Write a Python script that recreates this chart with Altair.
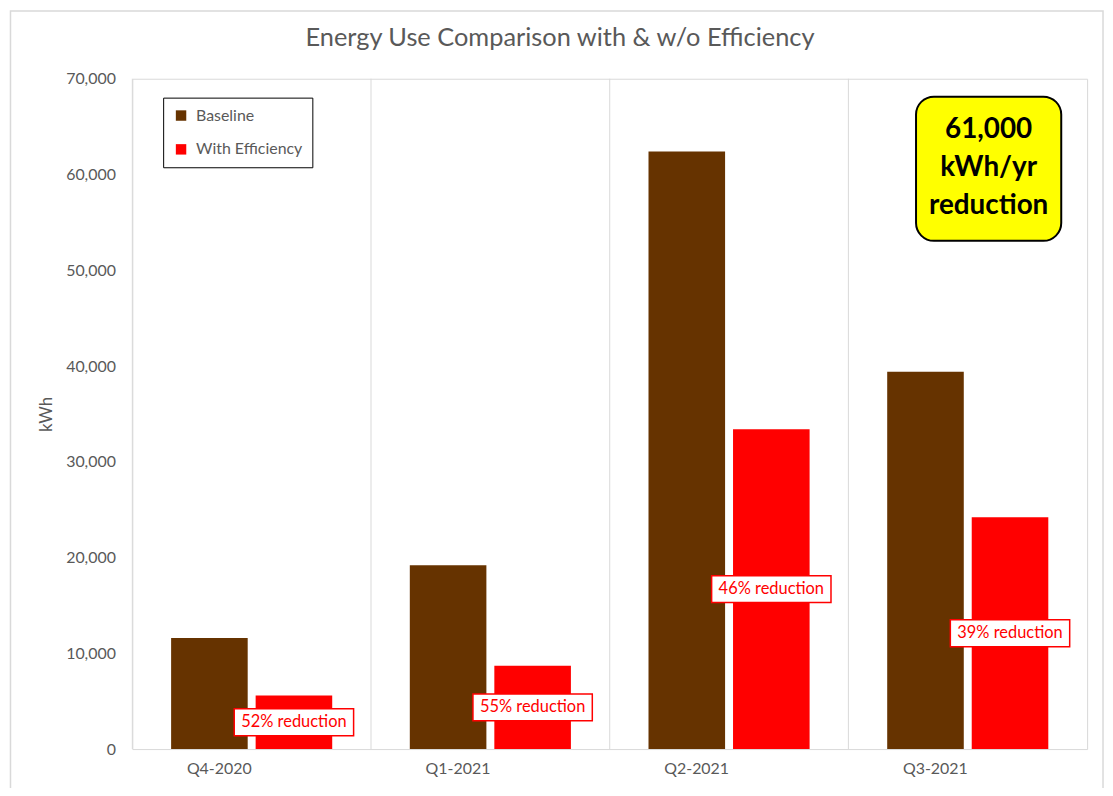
import altair as alt
import pandas as pd

quarters = ["Q4-2020", "Q1-2021", "Q2-2021", "Q3-2021"]
baseline = [11600, 19200, 62400, 39400]
efficiency = [5600, 8700, 33400, 24200]
reduction_labels = ["52% reduction", "55% reduction", "46% reduction", "39% reduction"]
series_names = ["Baseline", "With Efficiency"]
series_colors = ["#663300", "#FF0000"]
y_ticks = [0, 10000, 20000, 30000, 40000, 50000, 60000, 70000]
callout_lines = ["61,000", "kWh/yr", "reduction"]
chart_title = "Energy Use Comparison with & w/o Efficiency"

FONT = "Lato"
GREY = "#595959"

rows = []
for q, b, e in zip(quarters, baseline, efficiency):
    rows.append({"quarter": q, "series": series_names[0], "kWh": b})
    rows.append({"quarter": q, "series": series_names[1], "kWh": e})
bars_df = pd.DataFrame(rows)

lab_df = pd.DataFrame({
    "quarter": quarters,
    "series": [series_names[1]] * len(quarters),
    "kWh": efficiency,
    "label": reduction_labels,
})

q_df = pd.DataFrame({"quarter": quarters})

x_enc = alt.X("quarter:N", sort=quarters, title=None,
              scale=alt.Scale(paddingInner=0, paddingOuter=0),
              axis=alt.Axis(labelAngle=0, labelFontSize=16, labelColor=GREY,
                            labelFont=FONT, labelPadding=20, ticks=False,
                            domain=False, grid=False))
xoff = alt.XOffset("series:N", sort=series_names,
                   scale=alt.Scale(paddingInner=0.094, paddingOuter=0.459))
y_scale = alt.Scale(domain=[0, 70000], nice=False)

grid_v = alt.Chart(q_df).mark_rule(color="#d9d9d9", strokeWidth=1).encode(
    x=alt.X("quarter:N", sort=quarters, bandPosition=0),
    y=alt.datum(0), y2=alt.datum(70000),
)

bars = alt.Chart(bars_df).mark_bar().encode(
    x=x_enc,
    xOffset=xoff,
    y=alt.Y("kWh:Q", scale=y_scale, title="kWh",
            axis=alt.Axis(values=y_ticks, format=",.0f", labelFontSize=16,
                          labelColor=GREY, labelFont=FONT, labelPadding=17,
                          ticks=False, domain=False, gridColor="#d9d9d9",
                          titleFont=FONT, titleFontSize=17, titleColor=GREY,
                          titleFontWeight="normal", titleX=-86, titleY=337,
                          titleAngle=-90, titleAlign="center",
                          titleBaseline="middle")),
    color=alt.Color("series:N", sort=series_names,
                    scale=alt.Scale(domain=series_names, range=series_colors),
                    legend=alt.Legend(title=None, orient="none", legendX=31,
                                      legendY=19, direction="vertical",
                                      symbolType="square", symbolSize=110,
                                      symbolStrokeWidth=0, labelFontSize=16,
                                      labelFont=FONT, labelColor=GREY,
                                      labelOffset=7, rowPadding=18, padding=10,
                                      strokeColor="black", fillColor="white")),
)

box_shape = "M-1,-0.225L1,-0.225L1,0.225L-1,0.225Z"
lab_boxes = alt.Chart(lab_df).transform_calculate(mid="datum.kWh / 2").mark_point(
    shape=box_shape, size=14400, filled=True, fill="white", stroke="#FF0000",
    strokeWidth=1.5, opacity=1,
).encode(
    x=alt.X("quarter:N", sort=quarters),
    xOffset=alt.XOffset("series:N", sort=series_names),
    y=alt.Y("mid:Q", scale=y_scale),
)
lab_text = alt.Chart(lab_df).transform_calculate(mid="datum.kWh / 2").mark_text(
    font=FONT, fontSize=16.5, color="#FF0000", align="center", baseline="middle",
).encode(
    x=alt.X("quarter:N", sort=quarters),
    xOffset=alt.XOffset("series:N", sort=series_names),
    y=alt.Y("mid:Q", scale=y_scale),
    text="label:N",
)

one = pd.DataFrame({"a": [0]})
callout_box = alt.Chart(one).mark_rect(
    fill="#FFFF00", stroke="black", strokeWidth=2, cornerRadius=18,
).encode(x=alt.value(788), x2=alt.value(934), y=alt.value(18), y2=alt.value(163))

callout_layers = []
for i, line in enumerate(callout_lines):
    callout_layers.append(
        alt.Chart(pd.DataFrame({"t": [line]})).mark_text(
            font=FONT, fontSize=28, fontWeight="bold", color="black",
            align="center", baseline="middle",
        ).encode(x=alt.value(861), y=alt.value(52 + 38 * i), text="t:N")
    )

title_layer = alt.Chart(pd.DataFrame({"t": [chart_title]})).mark_text(
    font=FONT, fontSize=25.5, color=GREY, align="center", baseline="middle",
).encode(x=alt.value(430), y=alt.value(-41), text="t:N")

outer = alt.Chart(one).mark_rect(
    fill=None, stroke="#d9d9d9", strokeWidth=1.5,
).encode(x=alt.value(-122.5), x2=alt.value(976), y=alt.value(-68), y2=alt.value(760))

chart = alt.layer(
    outer, grid_v, bars, lab_boxes, lab_text, callout_box, *callout_layers,
    title_layer,
).properties(
    width=960, height=674,
    autosize=alt.AutoSizeParams(type="none"),
    padding={"left": 125, "top": 69, "right": 18, "bottom": 37},
).configure_view(stroke="#d9d9d9", strokeWidth=1)

chart.save("out.html", embed_options={"renderer": "svg", "actions": False})
